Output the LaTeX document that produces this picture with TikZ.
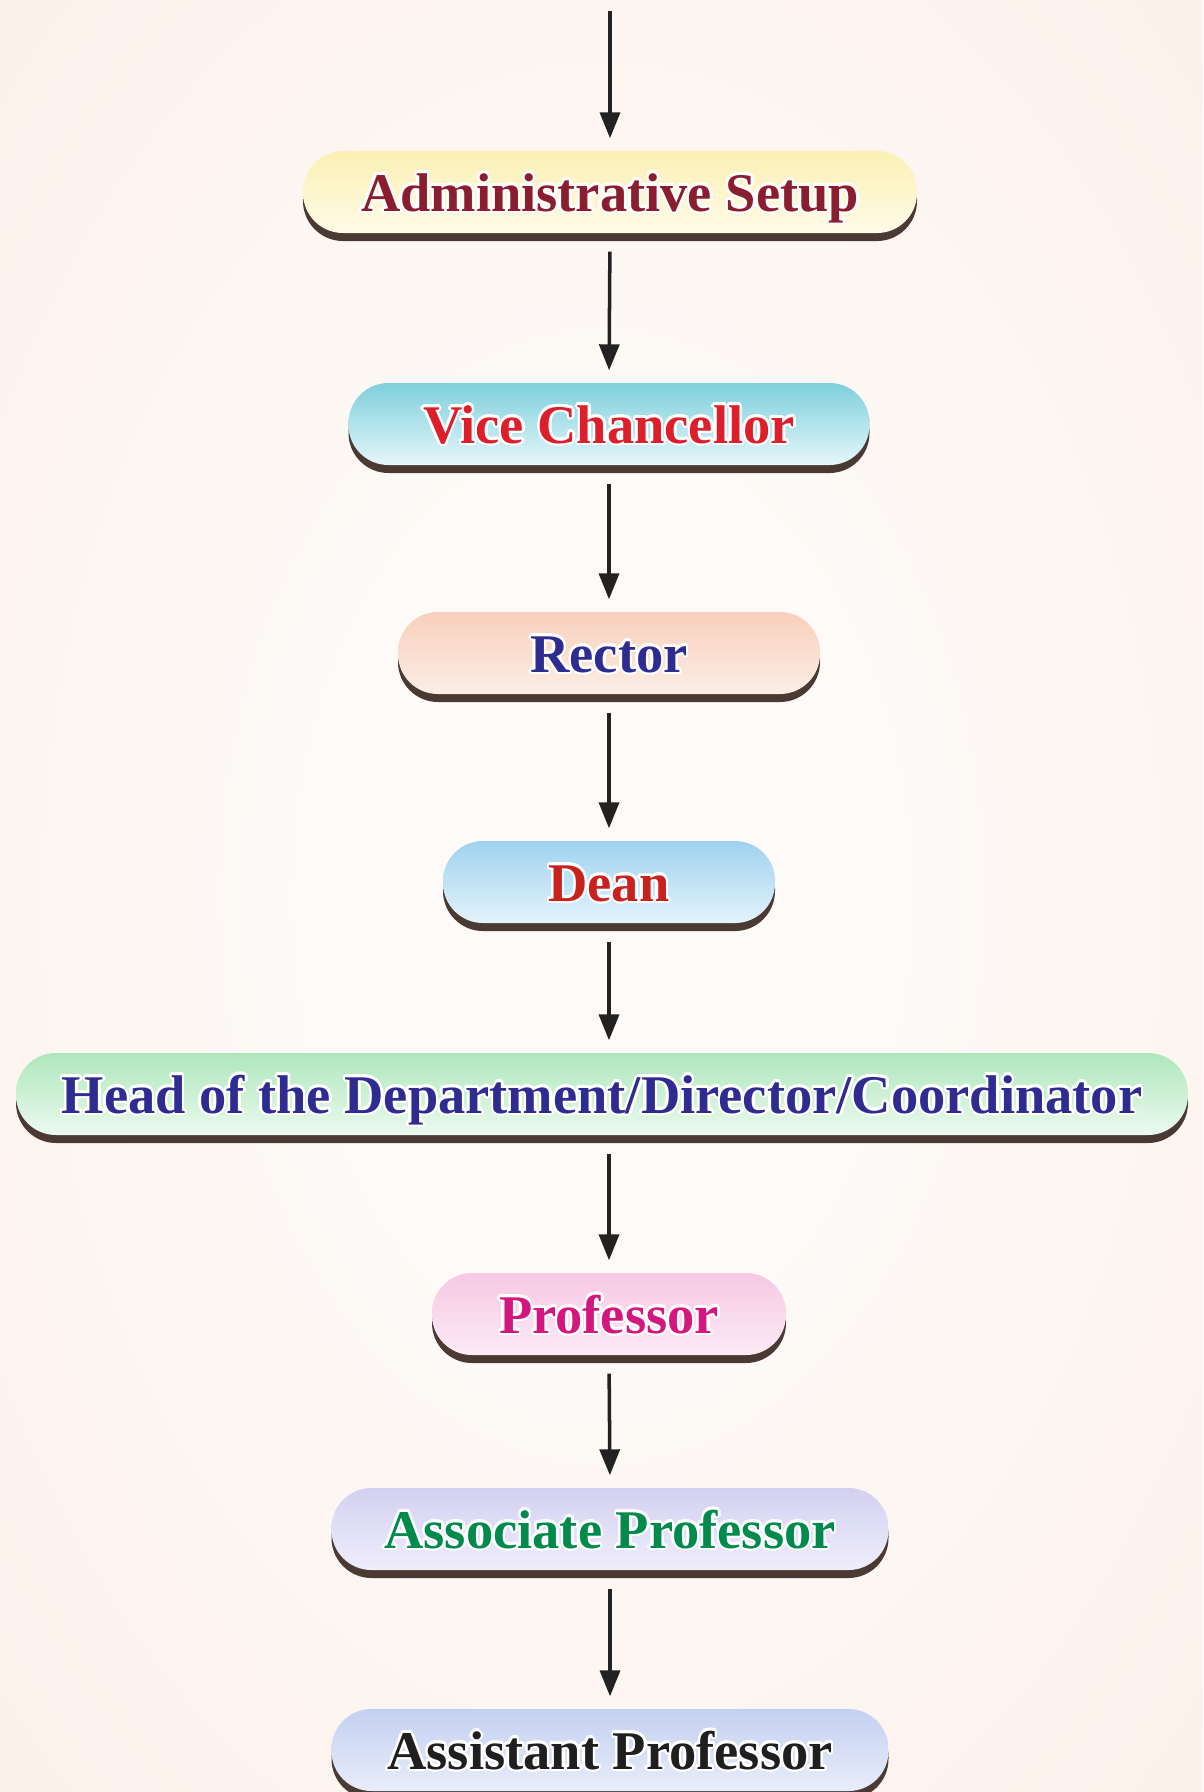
\documentclass[tikz,border=0pt]{standalone}
\usepackage{xcolor}
\usepackage{fontspec}
\newfontfamily\boxfont{Liberation Serif}
\usepackage{contour}
\contourlength{0.7pt}
\usepackage{tikz}
\usetikzlibrary{arrows.meta, positioning, shadows}

\definecolor{bginner}{HTML}{FDFAF7}
\definecolor{bgouter}{HTML}{FCE6DD}
\definecolor{shadowbrown}{HTML}{4B3A34}
\definecolor{arrowgray}{HTML}{222222}
% box fills (top / bottom)
\definecolor{admintop}{HTML}{FBF0B4}\definecolor{adminbot}{HTML}{FFFBE8}
\definecolor{vctop}{HTML}{7ECFDC}\definecolor{vcbot}{HTML}{E6F7FA}
\definecolor{rectortop}{HTML}{F8CFBC}\definecolor{rectorbot}{HTML}{FCEEE6}
\definecolor{deantop}{HTML}{9FD2EF}\definecolor{deanbot}{HTML}{E4F3FB}
\definecolor{hodtop}{HTML}{AEE7BC}\definecolor{hodbot}{HTML}{ECFAEF}
\definecolor{proftop}{HTML}{F7C8E4}\definecolor{profbot}{HTML}{FCEBF5}
\definecolor{assoctop}{HTML}{D3D0F1}\definecolor{assocbot}{HTML}{EFEEFB}
\definecolor{assttop}{HTML}{C4D0F1}\definecolor{asstbot}{HTML}{E8EDFA}
% text colours
\definecolor{admintext}{HTML}{8B1E2E}
\definecolor{vctext}{HTML}{DC1F2B}
\definecolor{bluetext}{HTML}{2E2C90}
\definecolor{deantext}{HTML}{C8221F}
\definecolor{proftext}{HTML}{D4167F}
\definecolor{assoctext}{HTML}{008A4B}
\definecolor{assttext}{HTML}{1F1F1F}
\pgfdeclareradialshading{bgglow}{\pgfpoint{0bp}{0bp}}{color(0bp)=(bginner); color(12bp)=(bginner); color(62bp)=(bgouter); color(72bp)=(bgouter)}

\begin{document}
\begin{tikzpicture}[
    rolebox/.style={rectangle, rounded corners=0.4cm, minimum height=0.82cm, inner sep=0pt, text height=0.5cm, text depth=0.12cm, font=\boxfont\bfseries\fontsize{15.5}{18}\selectfont, align=center, drop shadow={shadow xshift=0cm, shadow yshift=-0.08cm, fill=shadowbrown, opacity=1}}, % pill boxes
    edge/.style={-{Triangle[width=0.2cm, length=0.26cm]}, line width=1pt, draw=arrowgray, fill=arrowgray, shorten <=0.18cm, shorten >=0.12cm}
]

% Page size and background glow
\useasboundingbox (0,0) rectangle (12.03,-17.92);
\shade[shading=bgglow] (0,0) rectangle (12.03,-17.92);

% Nodes
\coordinate (top) at (6.10, -0.11);
\node[rolebox, minimum width=6.14cm, top color=admintop, bottom color=adminbot, text=admintext] (admin) at (6.10, -1.92) {\contour{white}{Administrative Setup}};
\node[rolebox, minimum width=5.21cm, top color=vctop, bottom color=vcbot, text=vctext] (vc) at (6.09, -4.24) {\contour{white}{Vice Chancellor}};
\node[rolebox, minimum width=4.22cm, top color=rectortop, bottom color=rectorbot, text=bluetext] (rector) at (6.09, -6.53) {\contour{white}{Rector}};
\node[rolebox, minimum width=3.32cm, top color=deantop, bottom color=deanbot, text=deantext] (dean) at (6.09, -8.82) {\contour{white}{Dean}};
\node[rolebox, minimum width=11.72cm, top color=hodtop, bottom color=hodbot, text=bluetext] (hod) at (6.02, -10.94) {\contour{white}{Head of the Department/Director/Coordinator}};
\node[rolebox, minimum width=3.54cm, top color=proftop, bottom color=profbot, text=proftext] (prof) at (6.09, -13.14) {\contour{white}{Professor}};
\node[rolebox, minimum width=5.57cm, top color=assoctop, bottom color=assocbot, text=assoctext] (assoc) at (6.10, -15.29) {\contour{white}{Associate Professor}};
\node[rolebox, minimum width=5.57cm, top color=assttop, bottom color=asstbot, text=assttext] (asst) at (6.10, -17.50) {\contour{white}{Assistant Professor}};

% Edges
\draw[edge, shorten <=0cm] (top) -- (admin);
\draw[edge] (admin.south) -- (vc.north);
\draw[edge] (vc.south) -- (rector.north);
\draw[edge] (rector.south) -- (dean.north);
\draw[edge] (dean.south) -- (dean.south |- hod.north);
\draw[edge] (hod.south -| prof.north) -- (prof.north);
\draw[edge] (prof.south) -- (assoc.north);
\draw[edge] (assoc.south) -- (asst.north);

\end{tikzpicture}
\end{document}
